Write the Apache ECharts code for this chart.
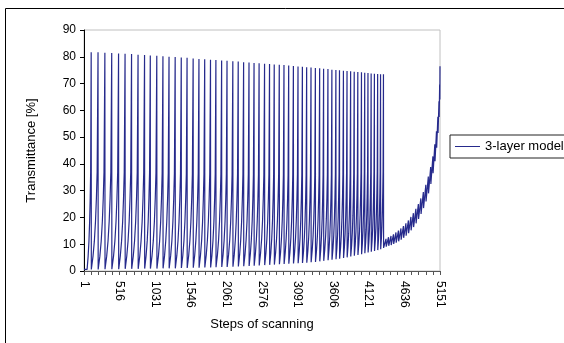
<!DOCTYPE html>
<html>
<head>
<meta charset="utf-8">
<script src="https://cdn.jsdelivr.net/npm/echarts@6/dist/echarts.min.js"></script>
<style>
  html, body { margin: 0; padding: 0; background: #fff; }
  #chart { width: 564px; height: 343px; }
</style>
</head>
<body>
<div id="chart"></div>
<script>
// Peaks of the dense oscillation part (step index, transmittance %)
const peakSteps = [
  104, 203, 302, 401, 500, 594, 688, 782, 876, 959,
  1053, 1142, 1230, 1319, 1407, 1491, 1579, 1663, 1746, 1830,
  1908, 1991, 2069, 2153, 2231, 2309, 2387, 2460, 2533, 2612,
  2684, 2752, 2825, 2893, 2961, 3029, 3096, 3159, 3221, 3284,
  3347, 3409, 3466, 3529, 3586, 3644, 3696, 3753, 3805, 3857,
  3909, 3961, 4014, 4061, 4108, 4154, 4201, 4248, 4290, 4332
];
const peakValues = [
  81.7, 81.7, 81.5, 81.4, 81.2, 81.1, 81.0, 80.8, 80.7, 80.5,
  80.4, 80.2, 80.0, 79.9, 79.7, 79.6, 79.4, 79.2, 79.1, 78.9,
  78.8, 78.6, 78.5, 78.3, 78.2, 78.0, 77.9, 77.7, 77.6, 77.4,
  77.3, 77.1, 77.0, 76.9, 76.7, 76.6, 76.4, 76.3, 76.1, 76.0,
  75.8, 75.7, 75.5, 75.4, 75.2, 75.1, 75.0, 74.8, 74.7, 74.6,
  74.4, 74.3, 74.2, 74.0, 73.9, 73.8, 73.7, 73.6, 73.5, 73.5
];
const troughValues = [
  0.6, 0.6, 0.6, 0.7, 0.7, 0.7, 0.8, 0.8, 0.8, 0.9,
  0.9, 0.9, 1.0, 1.0, 1.0, 1.1, 1.1, 1.2, 1.2, 1.3,
  1.3, 1.4, 1.5, 1.5, 1.6, 1.7, 1.8, 1.9, 2.0, 2.1,
  2.2, 2.3, 2.4, 2.5, 2.6, 2.7, 2.8, 2.9, 3.0, 3.1,
  3.3, 3.4, 3.6, 3.8, 4.0, 4.2, 4.4, 4.6, 4.9, 5.1,
  5.4, 5.7, 6.0, 6.3, 6.6, 6.9, 7.2, 7.5, 7.8, 8.1
];
// shape of one rise: [fraction of cycle length, fraction of amplitude]
const riseShape = [[0, 0], [0.25, 0.06], [0.45, 0.13], [0.62, 0.22], [0.76, 0.33], [0.87, 0.45], [0.95, 0.78], [1, 1]];

// Tail after the last big peak: small teeth riding up to the end
const tailSteps = [
  4300, 4336, 4372, 4408, 4444, 4480, 4516, 4552, 4588, 4624,
  4660, 4696, 4732, 4768, 4804, 4840, 4876, 4912, 4948, 4984,
  5018, 5050, 5078, 5102, 5122, 5138, 5148
];
const tailLow = [
  8.6, 8.8, 9.1, 9.4, 9.7, 10.1, 10.6, 11.1, 11.7, 12.4,
  13.2, 14.1, 15.2, 16.4, 17.8, 19.4, 21.3, 23.5, 26.0, 29.0,
  32.5, 36.5, 41.0, 46.0, 51.5, 57.5, 64.0
];
const tailHigh = [
  11.5, 12.0, 12.6, 13.1, 13.7, 14.4, 15.1, 15.9, 16.8, 17.8,
  18.9, 20.2, 21.6, 23.2, 25.0, 27.1, 29.5, 32.2, 35.3, 38.8,
  42.8, 47.3, 52.2, 57.6, 63.4, 69.6, 76.5
];

const xTickLabels = ["1", "516", "1031", "1546", "2061", "2576", "3091", "3606", "4121", "4636", "5151"];

// build the line from the read points
const data = [[0, troughValues[0]]];
let start = 45;
for (let i = 0; i < peakSteps.length; i++) {
  const p = peakSteps[i];
  riseShape.forEach(([f, a]) => {
    data.push([start + f * (p - start), troughValues[i] + a * (peakValues[i] - troughValues[i])]);
  });
  start = p + 2;
}
for (let i = 0; i < tailSteps.length; i++) {
  const top = i < tailSteps.length - 1 ? tailSteps[i + 1] - 3 : 5150;
  data.push([Math.max(tailSteps[i], data[data.length - 1][0] + 2), tailLow[i]]);
  data.push([top, tailHigh[i]]);
}

const chart = echarts.init(document.getElementById("chart"));
const font = "Liberation Sans, Arial, sans-serif";
const lineColor = "#262a8c";

chart.setOption({
  animation: false,
  backgroundColor: "#fff",
  textStyle: { fontFamily: font },
  graphic: [
    {
      type: "rect",
      shape: { x: 5.5, y: 8.5, width: 600, height: 400 },
      style: { fill: "none", stroke: "#000", lineWidth: 1 },
      silent: true
    }
  ],
  grid: {
    left: 84, top: 30, right: 124, bottom: 72,
    show: true, borderColor: "#c0c0c0", borderWidth: 1
  },
  legend: {
    left: 450, top: 135,
    data: [{ name: "3-layer model", icon: "rect" }],
    itemWidth: 25, itemHeight: 1,
    padding: [5, 6, 5, 5],
    borderColor: "#222", borderWidth: 1,
    textStyle: { fontFamily: font, fontSize: 13, color: "#000" }
  },
  xAxis: {
    type: "value",
    min: 0, max: 5150, interval: 515,
    name: "Steps of scanning",
    nameLocation: "middle", nameGap: 47,
    nameTextStyle: { fontFamily: font, fontSize: 13, color: "#000" },
    axisLine: { lineStyle: { color: "#555", width: 1 } },
    axisTick: { length: 4, lineStyle: { color: "#555" } },
    minorTick: { show: true, splitNumber: 5, length: 4, lineStyle: { color: "#555" } },
    splitLine: { show: false },
    axisLabel: {
      rotate: -90, margin: 10,
      fontFamily: font, fontSize: 12, color: "#000",
      formatter: (v) => xTickLabels[Math.round(v / 515)]
    }
  },
  yAxis: {
    type: "value",
    min: 0, max: 90, interval: 10,
    name: "Transmittance [%]",
    nameLocation: "middle", nameGap: 46,
    nameTextStyle: { fontFamily: font, fontSize: 13, color: "#000" },
    axisLine: { show: true, lineStyle: { color: "#000", width: 1 } },
    axisTick: { show: true, length: 4, lineStyle: { color: "#000" } },
    splitLine: { show: false },
    axisLabel: { margin: 8, fontFamily: font, fontSize: 12, color: "#000" }
  },
  series: [
    {
      name: "3-layer model",
      type: "line",
      data: data,
      showSymbol: false,
      symbol: "none",
      sampling: null,
      lineStyle: { color: lineColor, width: 1.2 },
      itemStyle: { color: lineColor }
    }
  ]
});

window.addEventListener("resize", () => chart.resize());
</script>
</body>
</html>
